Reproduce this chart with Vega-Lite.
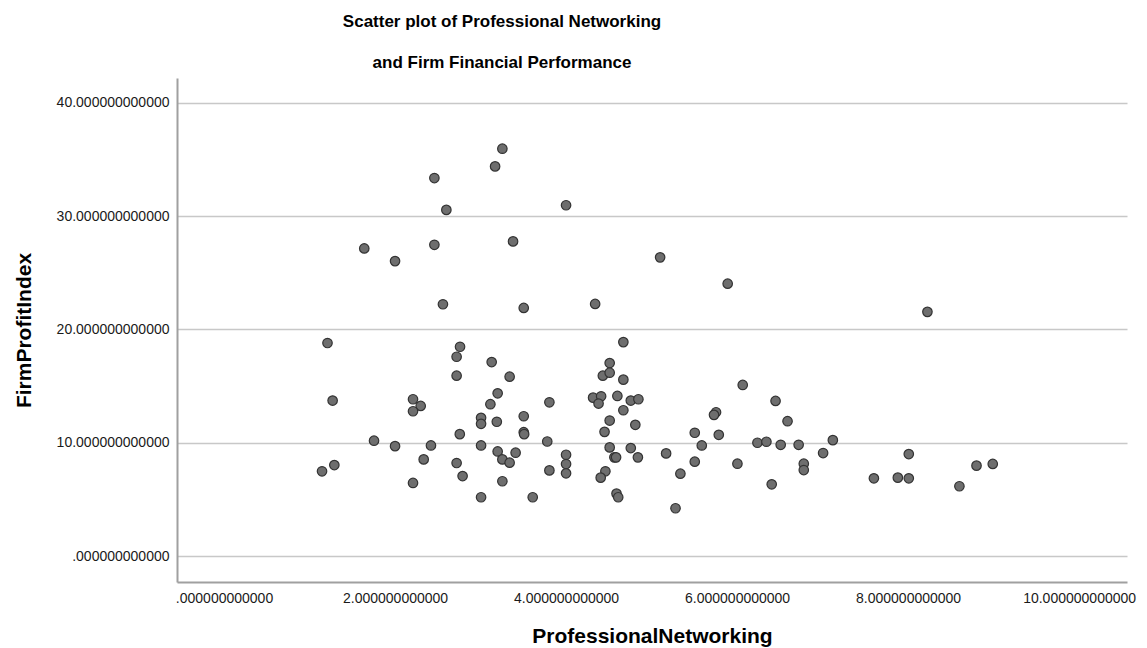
{
  "$schema": "https://vega.github.io/schema/vega-lite/v6.json",
  "autosize": "none",
  "width": 950,
  "height": 504,
  "padding": {"left": 177, "top": 78, "right": 20, "bottom": 66},
  "background": "white",
  "title": {
    "text": ["Scatter plot of Professional Networking", "and Firm Financial Performance"],
    "frame": "group",
    "anchor": "middle",
    "dx": -150,
    "offset": 6,
    "lineHeight": 41,
    "fontSize": 17,
    "font": "Liberation Sans",
    "fontWeight": "bold",
    "color": "#000000"
  },
  "config": {
    "view": {"stroke": null},
    "axis": {
      "labelFont": "Liberation Sans",
      "labelFontSize": 14,
      "labelColor": "#1a1a1a",
      "titleFont": "Liberation Sans",
      "titleFontSize": 21,
      "titleFontWeight": "bold",
      "titleColor": "#000000",
      "domainColor": "#a0a0a0",
      "domainWidth": 2,
      "ticks": false,
      "gridColor": "#c8c8c8",
      "gridWidth": 1.5
    }
  },
  "data": {
    "values": [
      {"ProfessionalNetworking": 3.255, "FirmProfitIndex": 35.95},
      {"ProfessionalNetworking": 3.17, "FirmProfitIndex": 34.39},
      {"ProfessionalNetworking": 2.46, "FirmProfitIndex": 33.36},
      {"ProfessionalNetworking": 2.60, "FirmProfitIndex": 30.55},
      {"ProfessionalNetworking": 1.64, "FirmProfitIndex": 27.15},
      {"ProfessionalNetworking": 2.46, "FirmProfitIndex": 27.47},
      {"ProfessionalNetworking": 2.00, "FirmProfitIndex": 26.03},
      {"ProfessionalNetworking": 3.38, "FirmProfitIndex": 27.77},
      {"ProfessionalNetworking": 2.56, "FirmProfitIndex": 22.22},
      {"ProfessionalNetworking": 3.505, "FirmProfitIndex": 21.90},
      {"ProfessionalNetworking": 1.21, "FirmProfitIndex": 18.80},
      {"ProfessionalNetworking": 2.76, "FirmProfitIndex": 18.47},
      {"ProfessionalNetworking": 2.72, "FirmProfitIndex": 17.59},
      {"ProfessionalNetworking": 3.13, "FirmProfitIndex": 17.12},
      {"ProfessionalNetworking": 2.72, "FirmProfitIndex": 15.92},
      {"ProfessionalNetworking": 3.34, "FirmProfitIndex": 15.83},
      {"ProfessionalNetworking": 1.27, "FirmProfitIndex": 13.72},
      {"ProfessionalNetworking": 2.21, "FirmProfitIndex": 13.84},
      {"ProfessionalNetworking": 2.30, "FirmProfitIndex": 13.25},
      {"ProfessionalNetworking": 2.21, "FirmProfitIndex": 12.78},
      {"ProfessionalNetworking": 3.20, "FirmProfitIndex": 14.36},
      {"ProfessionalNetworking": 3.115, "FirmProfitIndex": 13.40},
      {"ProfessionalNetworking": 3.006, "FirmProfitIndex": 12.20},
      {"ProfessionalNetworking": 3.006, "FirmProfitIndex": 11.67},
      {"ProfessionalNetworking": 3.19, "FirmProfitIndex": 11.85},
      {"ProfessionalNetworking": 2.757, "FirmProfitIndex": 10.76},
      {"ProfessionalNetworking": 3.505, "FirmProfitIndex": 12.34},
      {"ProfessionalNetworking": 3.505, "FirmProfitIndex": 10.93},
      {"ProfessionalNetworking": 3.51, "FirmProfitIndex": 10.76},
      {"ProfessionalNetworking": 1.754, "FirmProfitIndex": 10.18},
      {"ProfessionalNetworking": 2.00, "FirmProfitIndex": 9.70},
      {"ProfessionalNetworking": 2.42, "FirmProfitIndex": 9.76},
      {"ProfessionalNetworking": 3.006, "FirmProfitIndex": 9.76},
      {"ProfessionalNetworking": 3.20, "FirmProfitIndex": 9.23},
      {"ProfessionalNetworking": 3.255, "FirmProfitIndex": 8.53},
      {"ProfessionalNetworking": 3.34, "FirmProfitIndex": 8.24},
      {"ProfessionalNetworking": 3.41, "FirmProfitIndex": 9.12},
      {"ProfessionalNetworking": 2.335, "FirmProfitIndex": 8.53},
      {"ProfessionalNetworking": 2.72, "FirmProfitIndex": 8.21},
      {"ProfessionalNetworking": 1.29, "FirmProfitIndex": 8.03},
      {"ProfessionalNetworking": 1.146, "FirmProfitIndex": 7.48},
      {"ProfessionalNetworking": 2.79, "FirmProfitIndex": 7.06},
      {"ProfessionalNetworking": 2.21, "FirmProfitIndex": 6.45},
      {"ProfessionalNetworking": 3.255, "FirmProfitIndex": 6.60},
      {"ProfessionalNetworking": 3.006, "FirmProfitIndex": 5.19},
      {"ProfessionalNetworking": 4.00, "FirmProfitIndex": 30.96},
      {"ProfessionalNetworking": 5.10, "FirmProfitIndex": 26.36},
      {"ProfessionalNetworking": 5.89, "FirmProfitIndex": 24.04},
      {"ProfessionalNetworking": 4.34, "FirmProfitIndex": 22.25},
      {"ProfessionalNetworking": 4.67, "FirmProfitIndex": 18.88},
      {"ProfessionalNetworking": 4.51, "FirmProfitIndex": 17.03},
      {"ProfessionalNetworking": 4.43, "FirmProfitIndex": 15.92},
      {"ProfessionalNetworking": 4.51, "FirmProfitIndex": 16.18},
      {"ProfessionalNetworking": 4.67, "FirmProfitIndex": 15.57},
      {"ProfessionalNetworking": 3.805, "FirmProfitIndex": 13.57},
      {"ProfessionalNetworking": 4.316, "FirmProfitIndex": 13.98},
      {"ProfessionalNetworking": 4.41, "FirmProfitIndex": 14.10},
      {"ProfessionalNetworking": 4.38, "FirmProfitIndex": 13.46},
      {"ProfessionalNetworking": 4.60, "FirmProfitIndex": 14.13},
      {"ProfessionalNetworking": 4.757, "FirmProfitIndex": 13.72},
      {"ProfessionalNetworking": 4.846, "FirmProfitIndex": 13.84},
      {"ProfessionalNetworking": 4.67, "FirmProfitIndex": 12.87},
      {"ProfessionalNetworking": 4.51, "FirmProfitIndex": 11.96},
      {"ProfessionalNetworking": 4.81, "FirmProfitIndex": 11.58},
      {"ProfessionalNetworking": 4.45, "FirmProfitIndex": 10.96},
      {"ProfessionalNetworking": 3.78, "FirmProfitIndex": 10.11},
      {"ProfessionalNetworking": 4.51, "FirmProfitIndex": 9.59},
      {"ProfessionalNetworking": 4.757, "FirmProfitIndex": 9.53},
      {"ProfessionalNetworking": 4.00, "FirmProfitIndex": 8.94},
      {"ProfessionalNetworking": 4.00, "FirmProfitIndex": 8.12},
      {"ProfessionalNetworking": 4.00, "FirmProfitIndex": 7.30},
      {"ProfessionalNetworking": 4.565, "FirmProfitIndex": 8.71},
      {"ProfessionalNetworking": 4.585, "FirmProfitIndex": 8.71},
      {"ProfessionalNetworking": 4.84, "FirmProfitIndex": 8.71},
      {"ProfessionalNetworking": 3.805, "FirmProfitIndex": 7.56},
      {"ProfessionalNetworking": 4.46, "FirmProfitIndex": 7.48},
      {"ProfessionalNetworking": 4.405, "FirmProfitIndex": 6.92},
      {"ProfessionalNetworking": 4.59, "FirmProfitIndex": 5.51},
      {"ProfessionalNetworking": 4.61, "FirmProfitIndex": 5.19},
      {"ProfessionalNetworking": 3.61, "FirmProfitIndex": 5.19},
      {"ProfessionalNetworking": 5.17, "FirmProfitIndex": 9.06},
      {"ProfessionalNetworking": 5.505, "FirmProfitIndex": 10.88},
      {"ProfessionalNetworking": 5.587, "FirmProfitIndex": 9.76},
      {"ProfessionalNetworking": 5.505, "FirmProfitIndex": 8.33},
      {"ProfessionalNetworking": 5.337, "FirmProfitIndex": 7.27},
      {"ProfessionalNetworking": 5.28, "FirmProfitIndex": 4.22},
      {"ProfessionalNetworking": 5.754, "FirmProfitIndex": 12.69},
      {"ProfessionalNetworking": 5.73, "FirmProfitIndex": 12.46},
      {"ProfessionalNetworking": 5.786, "FirmProfitIndex": 10.70},
      {"ProfessionalNetworking": 6.004, "FirmProfitIndex": 8.15},
      {"ProfessionalNetworking": 8.226, "FirmProfitIndex": 21.55},
      {"ProfessionalNetworking": 6.066, "FirmProfitIndex": 15.10},
      {"ProfessionalNetworking": 6.45, "FirmProfitIndex": 13.69},
      {"ProfessionalNetworking": 6.59, "FirmProfitIndex": 11.90},
      {"ProfessionalNetworking": 6.238, "FirmProfitIndex": 10.00},
      {"ProfessionalNetworking": 6.343, "FirmProfitIndex": 10.09},
      {"ProfessionalNetworking": 6.51, "FirmProfitIndex": 9.82},
      {"ProfessionalNetworking": 6.72, "FirmProfitIndex": 9.82},
      {"ProfessionalNetworking": 7.12, "FirmProfitIndex": 10.23},
      {"ProfessionalNetworking": 7.006, "FirmProfitIndex": 9.09},
      {"ProfessionalNetworking": 6.78, "FirmProfitIndex": 8.15},
      {"ProfessionalNetworking": 6.78, "FirmProfitIndex": 7.59},
      {"ProfessionalNetworking": 6.405, "FirmProfitIndex": 6.33},
      {"ProfessionalNetworking": 8.008, "FirmProfitIndex": 9.00},
      {"ProfessionalNetworking": 7.60, "FirmProfitIndex": 6.86},
      {"ProfessionalNetworking": 7.88, "FirmProfitIndex": 6.92},
      {"ProfessionalNetworking": 8.008, "FirmProfitIndex": 6.86},
      {"ProfessionalNetworking": 8.60, "FirmProfitIndex": 6.16},
      {"ProfessionalNetworking": 8.80, "FirmProfitIndex": 7.98},
      {"ProfessionalNetworking": 8.99, "FirmProfitIndex": 8.13}
    ]
  },
  "mark": {
    "type": "point",
    "shape": "circle",
    "filled": true,
    "size": 90,
    "fill": "#6e6e6e",
    "stroke": "#333333",
    "strokeWidth": 1.2,
    "opacity": 1
  },
  "encoding": {
    "x": {
      "field": "ProfessionalNetworking",
      "type": "quantitative",
      "title": "ProfessionalNetworking",
      "scale": {"domain": [-0.55, 10.56], "nice": false, "zero": false},
      "axis": {
        "values": [0, 2, 4, 6, 8, 10],
        "grid": false,
        "labelPadding": 9,
        "titlePadding": 20,
        "labelExpr": "datum.value == 0 ? '.000000000000' : format(datum.value, '.12f')"
      }
    },
    "y": {
      "field": "FirmProfitIndex",
      "type": "quantitative",
      "title": "FirmProfitIndex",
      "scale": {"domain": [-2.29, 42.19], "nice": false, "zero": false},
      "axis": {
        "values": [0, 10, 20, 30, 40],
        "grid": true,
        "labelPadding": 8,
        "titlePadding": 22,
        "labelExpr": "datum.value == 0 ? '.000000000000' : format(datum.value, '.12f')"
      }
    }
  }
}
